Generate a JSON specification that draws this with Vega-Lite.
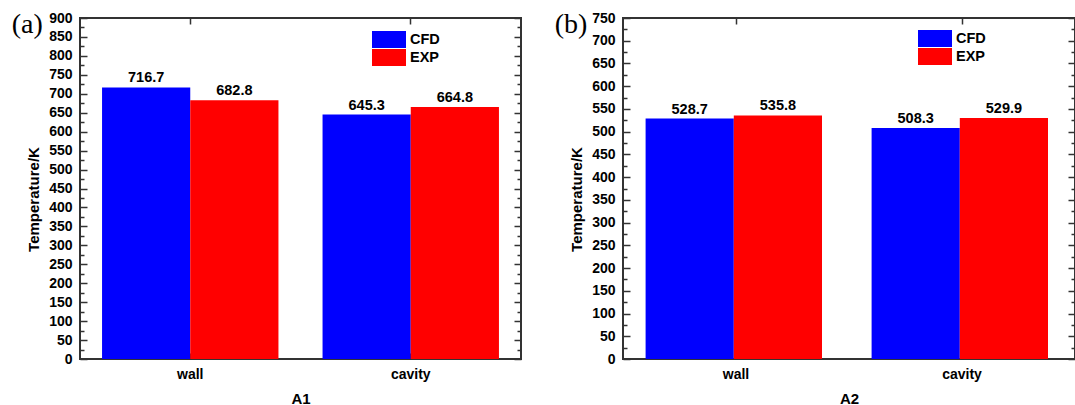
{
  "$schema": "https://vega.github.io/schema/vega-lite/v6.json",
  "padding": {"left": 10, "top": 10, "right": 0, "bottom": 0},
  "autosize": {"type": "pad"},
  "background": "white",
  "spacing": 30,
  "hconcat": [
    {
      "width": 441,
      "height": 341,
      "title": {"text": "(a)", "anchor": "start", "frame": "bounds", "font": "Liberation Serif", "fontSize": 28, "fontWeight": "normal", "color": "black", "baseline": "top", "offset": 0, "dx": -15, "dy": 28},
      "data": {"values": [
        {"cat": "wall", "series": "CFD", "value": 716.7},
        {"cat": "wall", "series": "EXP", "value": 682.8},
        {"cat": "cavity", "series": "CFD", "value": 645.3},
        {"cat": "cavity", "series": "EXP", "value": 664.8}
      ]},
      "layer": [
        {
          "mark": {"type": "bar"},
          "encoding": {
            "x": {"field": "cat", "type": "nominal", "sort": ["wall", "cavity"], "scale": {"paddingInner": 0.2, "paddingOuter": 0.1}, "axis": {"orient": "bottom", "title": "A1", "labelAngle": 0, "tickSize": -6, "labelPadding": 14, "titlePadding": 10}},
            "xOffset": {"field": "series", "type": "nominal", "sort": ["CFD", "EXP"], "scale": {"paddingInner": 0, "paddingOuter": 0}},
            "y": {"field": "value", "type": "quantitative", "scale": {"domain": [0, 900], "nice": false}, "axis": {"orient": "left", "title": "Temperature/K", "titleY": 181, "values": [0,25,50,75,100,125,150,175,200,225,250,275,300,325,350,375,400,425,450,475,500,525,550,575,600,625,650,675,700,725,750,775,800,825,850,875,900], "labelExpr": "datum.value % 50 === 0 ? datum.label : ''", "tickSize": {"condition": {"test": "datum.value % 50 === 0", "value": -7}, "value": -4}, "labelPadding": 15, "titlePadding": 7}},
            "color": {"field": "series", "type": "nominal", "scale": {"domain": ["CFD", "EXP"], "range": ["#0000FF", "#FF0000"]}, "legend": {"title": null, "orient": "none", "legendX": 300.5, "legendY": 13}}
          }
        },
        {
          "mark": {"type": "text", "baseline": "alphabetic", "dy": -5, "font": "Liberation Sans", "fontWeight": "bold", "fontSize": 14.5, "color": "black"},
          "encoding": {
            "x": {"field": "cat", "type": "nominal", "sort": ["wall", "cavity"], "scale": {"paddingInner": 0.2, "paddingOuter": 0.1}, "axis": {"orient": "top", "title": null, "labels": false, "tickSize": -6}},
            "xOffset": {"field": "series", "type": "nominal", "sort": ["CFD", "EXP"], "scale": {"paddingInner": 0, "paddingOuter": 0}},
            "y": {"field": "value", "type": "quantitative", "scale": {"domain": [0, 900], "nice": false}, "axis": {"orient": "right", "title": null, "labels": false, "values": [0,25,50,75,100,125,150,175,200,225,250,275,300,325,350,375,400,425,450,475,500,525,550,575,600,625,650,675,700,725,750,775,800,825,850,875,900], "tickSize": {"condition": {"test": "datum.value % 50 === 0", "value": -7}, "value": -4}}},
            "text": {"field": "value", "type": "quantitative", "format": ".1f"}
          }
        }
      ],
      "resolve": {"axis": {"x": "independent", "y": "independent"}}
    },
    {
      "width": 452,
      "height": 341,
      "title": {"text": "(b)", "anchor": "start", "frame": "bounds", "font": "Liberation Serif", "fontSize": 28, "fontWeight": "normal", "color": "black", "baseline": "top", "offset": 0, "dx": -15, "dy": 28},
      "data": {"values": [
        {"cat": "wall", "series": "CFD", "value": 528.7},
        {"cat": "wall", "series": "EXP", "value": 535.8},
        {"cat": "cavity", "series": "CFD", "value": 508.3},
        {"cat": "cavity", "series": "EXP", "value": 529.9}
      ]},
      "layer": [
        {
          "mark": {"type": "bar"},
          "encoding": {
            "x": {"field": "cat", "type": "nominal", "sort": ["wall", "cavity"], "scale": {"paddingInner": 0.2, "paddingOuter": 0.1}, "axis": {"orient": "bottom", "title": "A2", "labelAngle": 0, "tickSize": -6, "labelPadding": 14, "titlePadding": 10}},
            "xOffset": {"field": "series", "type": "nominal", "sort": ["CFD", "EXP"], "scale": {"paddingInner": 0, "paddingOuter": 0}},
            "y": {"field": "value", "type": "quantitative", "scale": {"domain": [0, 750], "nice": false}, "axis": {"orient": "left", "title": "Temperature/K", "titleY": 181, "values": [0,25,50,75,100,125,150,175,200,225,250,275,300,325,350,375,400,425,450,475,500,525,550,575,600,625,650,675,700,725,750], "labelExpr": "datum.value % 50 === 0 ? datum.label : ''", "tickSize": {"condition": {"test": "datum.value % 50 === 0", "value": -7}, "value": -4}, "labelPadding": 15, "titlePadding": 7}},
            "color": {"field": "series", "type": "nominal", "scale": {"domain": ["CFD", "EXP"], "range": ["#0000FF", "#FF0000"]}, "legend": {"title": null, "orient": "none", "legendX": 303.5, "legendY": 12}}
          }
        },
        {
          "mark": {"type": "text", "baseline": "alphabetic", "dy": -5, "font": "Liberation Sans", "fontWeight": "bold", "fontSize": 14.5, "color": "black"},
          "encoding": {
            "x": {"field": "cat", "type": "nominal", "sort": ["wall", "cavity"], "scale": {"paddingInner": 0.2, "paddingOuter": 0.1}, "axis": {"orient": "top", "title": null, "labels": false, "tickSize": -6}},
            "xOffset": {"field": "series", "type": "nominal", "sort": ["CFD", "EXP"], "scale": {"paddingInner": 0, "paddingOuter": 0}},
            "y": {"field": "value", "type": "quantitative", "scale": {"domain": [0, 750], "nice": false}, "axis": {"orient": "right", "title": null, "labels": false, "values": [0,25,50,75,100,125,150,175,200,225,250,275,300,325,350,375,400,425,450,475,500,525,550,575,600,625,650,675,700,725,750], "tickSize": {"condition": {"test": "datum.value % 50 === 0", "value": -7}, "value": -4}}},
            "text": {"field": "value", "type": "quantitative", "format": ".1f"}
          }
        }
      ],
      "resolve": {"axis": {"x": "independent", "y": "independent"}}
    }
  ],
  "resolve": {"legend": {"color": "independent"}, "scale": {"y": "independent", "color": "independent"}},
  "config": {
    "view": {"stroke": "#333333", "strokeWidth": 2},
    "axis": {"domain": false, "grid": false, "labelFont": "Liberation Sans", "labelFontWeight": "bold", "labelFontSize": 14, "labelColor": "black", "titleFont": "Liberation Sans", "titleFontWeight": "bold", "titleFontSize": 15, "titleColor": "black", "tickColor": "#333333", "tickWidth": 1.5},
    "legend": {"padding": 0, "rowPadding": 1, "symbolType": "M-2,-1H2V1H-2Z", "symbolSize": 289, "symbolStrokeWidth": 0, "symbolOpacity": 1, "labelFont": "Liberation Sans", "labelFontWeight": "bold", "labelFontSize": 14.5, "labelColor": "black", "labelOffset": 12.5}
  }
}
